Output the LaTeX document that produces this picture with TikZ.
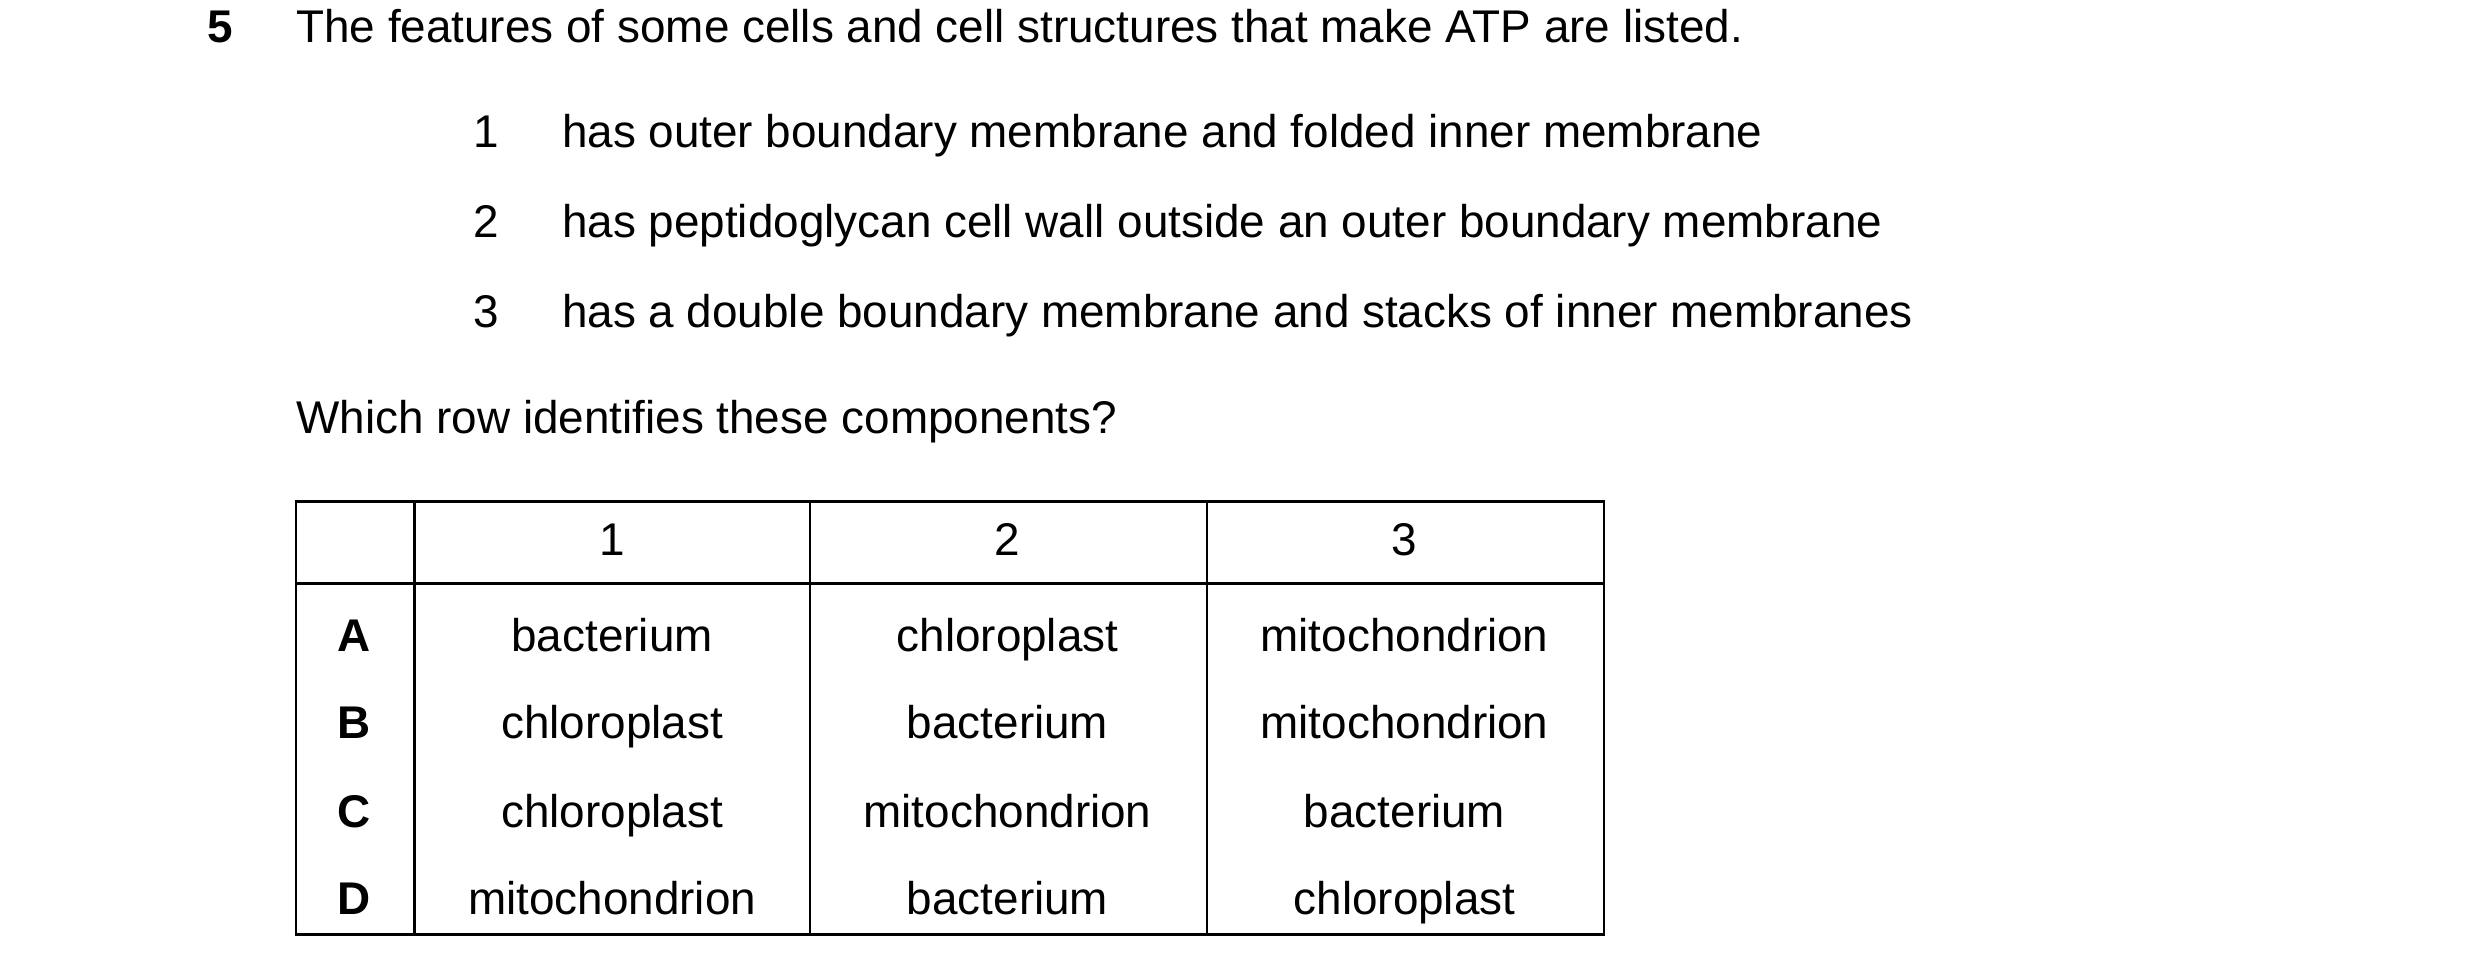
\documentclass[tikz,border=0pt]{standalone}
\usepackage{fontspec}
\setmainfont{Liberation Sans}
\usetikzlibrary{positioning}
\tikzset{
  txt/.style={anchor=base west, inner sep=0pt, font=\fontsize{16.5}{20}\selectfont},
  cell/.style={anchor=base, inner sep=0pt, font=\fontsize{16.5}{20}\selectfont},
  grid/.style={line width=0.9pt}
}
\begin{document}
\begin{tikzpicture}[x=0.02cm, y=-0.02cm]
  \useasboundingbox (0,0) rectangle (1568,617);

  \node[txt, font=\fontsize{16.5}{20}\selectfont\bfseries] (qnum) at (131,27) {5};
  \node[txt] (intro) at (187,27) {The features of some cells and cell structures that make ATP are listed.};

  \foreach \n/\y/\s in {1/93/has outer boundary membrane and folded inner membrane,
                        2/150/has peptidoglycan cell wall outside an outer boundary membrane,
                        3/207/has a double boundary membrane and stacks of inner membranes} {
    \node[txt] (num\n) at (299,\y) {\n};
    \node[txt] (feat\n) at (355,\y) {\s};
  }

  \node[txt] (ask) at (187,274) {Which row identifies these components?};

  % table
  \draw[grid] (187,317) rectangle (1014,591);
  \draw[grid] (187,369) -- (1014,369);
  \foreach \x in {262,512,763} {
    \draw[grid] (\x,317) -- (\x,591);
  }

  \node[cell] (h1) at (387,351) {1};
  \node[cell] (h2) at (637,351) {2};
  \node[cell] (h3) at (888,351) {3};

  \foreach \r/\y/\a/\b/\c in {A/412/bacterium/chloroplast/mitochondrion,
                              B/467/chloroplast/bacterium/mitochondrion,
                              C/523/chloroplast/mitochondrion/bacterium,
                              D/578/mitochondrion/bacterium/chloroplast} {
    \node[cell, font=\fontsize{16.5}{20}\selectfont\bfseries] (row\r) at (224,\y) {\r};
    \node[cell] (\r1) at (387,\y) {\a};
    \node[cell] (\r2) at (637,\y) {\b};
    \node[cell] (\r3) at (888,\y) {\c};
  }
\end{tikzpicture}
\end{document}
